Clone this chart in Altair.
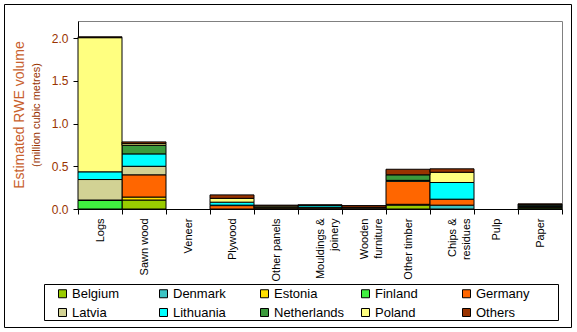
import altair as alt
import pandas as pd

categories = ["Logs", "Sawn wood", "Veneer", "Plywood", "Other panels",
              "Mouldings & joinery", "Wooden furniture", "Other timber",
              "Chips & residues", "Pulp", "Paper"]
countries = ["Belgium", "Denmark", "Estonia", "Finland", "Germany",
             "Latvia", "Lithuania", "Netherlands", "Poland", "Others"]

# values in million cubic metres, one list per country, in category order
belgium     = [0.0,   0.105, 0, 0.0,   0.0,   0.0,  0.0,  0.045, 0.0,   0, 0.0]
denmark     = [0.0,   0.0,   0, 0.0,   0.0,   0.0,  0.0,  0.0,   0.045, 0, 0.0]
estonia     = [0.0,   0.035, 0, 0.0,   0.0,   0.0,  0.0,  0.01,  0.0,   0, 0.01]
finland     = [0.1,   0.0,   0, 0.0,   0.01,  0.01, 0.0,  0.0,   0.0,   0, 0.01]
germany     = [0.005, 0.26,  0, 0.04,  0.01,  0.01, 0.01, 0.27,  0.07,  0, 0.01]
latvia      = [0.24,  0.1,   0, 0.005, 0.0,   0.0,  0.01, 0.0,   0.0,   0, 0.0]
lithuania   = [0.09,  0.145, 0, 0.035, 0.0,   0.02, 0.0,  0.01,  0.195, 0, 0.015]
netherlands = [0.0,   0.1,   0, 0.0,   0.0,   0.0,  0.0,  0.065, 0.0,   0, 0.0]
poland      = [1.57,  0.02,  0, 0.045, 0.015, 0.0,  0.0,  0.0,   0.12,  0, 0.005]
others      = [0.01,  0.02,  0, 0.04,  0.01,  0.01, 0.02, 0.065, 0.04,  0, 0.01]

series = [belgium, denmark, estonia, finland, germany,
          latvia, lithuania, netherlands, poland, others]
colors = ["#99CC00", "#3CC4C4", "#FFE000", "#40F040", "#FF6600",
          "#D2D294", "#00FFFF", "#3C9A3C", "#FFFF80", "#993300"]
y_ticks = [0.0, 0.5, 1.0, 1.5, 2.0]

rows = []
for ci, (country, vals) in enumerate(zip(countries, series)):
    for cat, v in zip(categories, vals):
        if v > 0:
            rows.append({"category": cat, "country": country, "order": ci, "value": v})
df = pd.DataFrame(rows)
one = pd.DataFrame({"a": [0]})

FONT = "Liberation Sans"

label_expr = ("datum.label == 'Mouldings & joinery' ? ['Mouldings &', 'joinery'] : "
              "datum.label == 'Wooden furniture' ? ['Wooden', 'furniture'] : "
              "datum.label == 'Chips & residues' ? ['Chips &', 'residues'] : datum.label")

bars = alt.Chart(df).mark_bar(stroke="black", strokeWidth=1).encode(
    x=alt.X("category:N", sort=categories,
            scale=alt.Scale(domain=categories, paddingInner=0, paddingOuter=0),
            axis=alt.Axis(title=None, labelAngle=270, labelAlign="right",
                          labelBaseline="middle", labelExpr=label_expr,
                          labelLineHeight=14.5, tickBand="extent", tickSize=5,
                          labelPadding=4, labelFontSize=11, labelColor="black",
                          labelFont=FONT, domainColor="black", tickColor="black")),
    y=alt.Y("value:Q", stack="zero",
            scale=alt.Scale(domain=[0, 2.2], nice=False),
            axis=alt.Axis(title=None, values=y_ticks, format=".1f", grid=False,
                          tickSize=5, labelPadding=5, labelFontSize=12,
                          labelColor="#993300", labelFont=FONT,
                          domainColor="black", tickColor="black")),
    color=alt.Color("country:N",
                    scale=alt.Scale(domain=countries, range=colors),
                    legend=alt.Legend(title=None, orient="none", legendX=-22,
                                      legendY=266, direction="horizontal",
                                      columns=5, gridAlign="all",
                                      columnPadding=14, rowPadding=5,
                                      symbolType="square", symbolSize=64,
                                      symbolStrokeColor="black",
                                      symbolStrokeWidth=1, labelFontSize=13,
                                      labelOffset=3, labelColor="black",
                                      labelFont=FONT, padding=0)),
    order=alt.Order("order:Q", sort="ascending"),
)

title1 = alt.Chart(one).mark_text(
    text="Estimated RWE volume", angle=270, fontSize=14, color="#C8602C",
    align="center", baseline="middle", font=FONT
).encode(x=alt.value(-58), y=alt.value(94))

title2 = alt.Chart(one).mark_text(
    text="(million cubic metres)", angle=270, fontSize=11, color="#993300",
    align="center", baseline="middle", font=FONT
).encode(x=alt.value(-41), y=alt.value(94))

outer = alt.Chart(one).mark_rect(fill="transparent", stroke="black", strokeWidth=1).encode(
    x=alt.value(-73.5), x2=alt.value(493.5), y=alt.value(-16.5), y2=alt.value(306.5))

legend_box = alt.Chart(one).mark_rect(fill="transparent", stroke="black", strokeWidth=1).encode(
    x=alt.value(-33.5), x2=alt.value(480.5), y=alt.value(263.5), y2=alt.value(299.5))

chart = alt.layer(bars, title1, title2, outer, legend_box).properties(
    width=484, height=188,
    autosize=alt.AutoSizeParams(type="none"),
    padding={"left": 78, "top": 21, "right": 15, "bottom": 123},
    background="white",
).configure(font=FONT).configure_view(stroke="#808080", strokeWidth=1)

chart.save("out.html", embed_options={"renderer": "svg", "actions": False})
